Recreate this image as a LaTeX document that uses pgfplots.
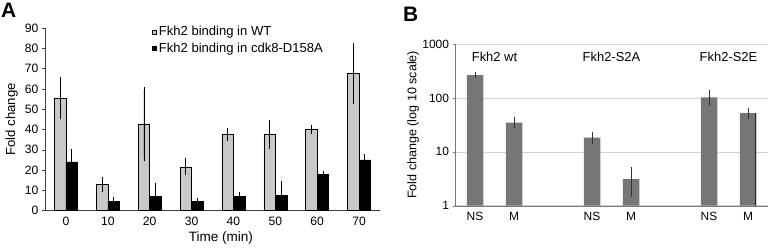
\documentclass[border=0pt]{standalone}
\usepackage{fontspec}
\setmainfont{Liberation Sans}
\usepackage{pgfplots}
\pgfplotsset{compat=1.18}
\definecolor{barA}{RGB}{200,200,200}
\definecolor{barB}{RGB}{118,118,118}
\definecolor{axgray}{RGB}{120,120,120}
\definecolor{gridgray}{RGB}{210,210,210}
\begin{document}
\begin{tikzpicture}[x=1bp,y=1bp]
\useasboundingbox (0,0) rectangle (770,248);
\node[anchor=north west, font=\fontsize{21}{21}\selectfont\bfseries, inner sep=0] at (1,245) {A};
\node[anchor=north west, font=\fontsize{21}{21}\selectfont\bfseries, inner sep=0] at (403,241) {B};

\begin{axis}[
  at={(45bp,37.5bp)}, anchor=south west,
  scale only axis, width=335bp, height=182.5bp,
  xmin=-5, xmax=75, ymin=0, ymax=90,
  axis x line*=bottom, axis y line*=left,
  axis line style={black!75},
  ybar=0pt, bar width=11.5bp,
  xtick={0,10,...,70},
  xtick style={draw=none},
  minor xtick={5,15,...,65},
  minor tick length=3bp,
  minor tick style={black!60},
  ytick={0,10,...,90},
  major tick length=3bp,
  tick align=outside,
  ytick style={black!75},
  tick label style={font=\fontsize{12.2}{14}\selectfont},
  /pgf/number format/assume math mode=true,
  xlabel={Time (min)}, ylabel={Fold change},
  every axis x label/.style={at={(axis description cs:0.525,-0.153)}, anchor=center, font=\fontsize{13.6}{15}\selectfont},
  every axis y label/.style={at={(axis description cs:-0.099,0.5)}, rotate=90, anchor=center, font=\fontsize{13.2}{15}\selectfont},
  legend style={at={(0.32,1.02)}, anchor=north west, draw=none, fill=none,
    font=\fontsize{13.1}{15}\selectfont, row sep=1.5bp, inner sep=0pt},
  legend cell align=left,
  legend image code/.code={\draw[#1, line width=0.5bp] (0bp,-2bp) rectangle (4bp,2bp);},
  error bars/y dir=both, error bars/y explicit,
  error bars/error bar style={black, line width=0.8bp},
  error bars/error mark options={black, line width=0.8bp, mark size=2.5bp},
]
\addplot[fill=barA, draw=black, line width=0.6bp] coordinates {
  (0,55.5) +- (0,9.3)
  (10,13) +- (0,2.5)
  (20,42.5) +- (0,17)
  (30,21.5) +- (0,3)
  (40,37.5) +- (0,2)
  (50,37.5) +- (0,6)
  (60,40) +- (0,1)
  (70,67.5) +- (0,13.7)
};
\addplot[fill=black, draw=black, line width=0.6bp] coordinates {
  (0,24) +- (0,5)
  (10,4.5) +- (0,0.7)
  (20,7) +- (0,5.5)
  (30,4.5) +- (0,0.3)
  (40,7) +- (0,1)
  (50,7.5) +- (0,6)
  (60,18) +- (0,0.3)
  (70,25) +- (0,1.5)
};
\legend{Fkh2 binding in WT, Fkh2 binding in cdk8-D158A}
\end{axis}

\begin{axis}[
  at={(455.5bp,42.3bp)}, anchor=south west,
  scale only axis, width=312bp, height=161.7bp,
  ymode=log, log basis y=10, log ticks with fixed point,
  /pgf/number format/1000 sep={},
  xmin=-0.5, xmax=7.5, ymin=1, ymax=1000,
  axis x line*=bottom, axis y line*=left,
  axis line style={axgray},
  ymajorgrids, grid style={gridgray, line width=0.6bp},
  ytick={1,10,100,1000},
  xtick={0,1,3,4,6,7},
  xticklabels={NS,M,NS,M,NS,M},
  xtick style={draw=none},
  minor xtick={0.5,1.5,...,6.5},
  minor tick length=3bp,
  minor tick style={gridgray!80!black},
  major tick length=3bp,
  ytick style={axgray},
  tick align=outside,
  tick label style={font=\fontsize{12}{14}\selectfont},
  /pgf/number format/assume math mode=true,
  ylabel={Fold change (log 10 scale)},
  every axis y label/.style={at={(axis description cs:-0.136,0.5)}, rotate=90, anchor=center, font=\fontsize{12.6}{15}\selectfont},
  ybar, bar width=16.5bp,
  error bars/y dir=both, error bars/y explicit,
  error bars/error bar style={black!80, line width=0.5bp, path picture={}},
  error bars/error mark options={black!80, line width=0.5bp, mark size=2.5bp},
]
\addplot[fill=barB, draw=none,
  path picture={\pgfsetlinewidth{1.6bp}\pgfsetstrokecolor{black!85}%
    \pgfpathmoveto{\pgfpointanchor{path picture bounding box}{north east}}%
    \pgfpathlineto{\pgfpointanchor{path picture bounding box}{south east}}%
    \pgfusepath{stroke}}]
  coordinates {
  (0,265) +- (0,5)
  (1,34.7) +- (0,4.5)
  (3,18.3) +- (0,2.5)
  (4,3.1) +- (0,1.5)
  (6,102) +- (0,23)
  (7,52) +- (0,7)
};
\node[font=\fontsize{13}{15}\selectfont] at (axis cs:0.5,575) {Fkh2 wt};
\node[font=\fontsize{13}{15}\selectfont] at (axis cs:3.5,575) {Fkh2-S2A};
\node[font=\fontsize{13}{15}\selectfont] at (axis cs:6.5,575) {Fkh2-S2E};
\end{axis}
\end{tikzpicture}
\end{document}
